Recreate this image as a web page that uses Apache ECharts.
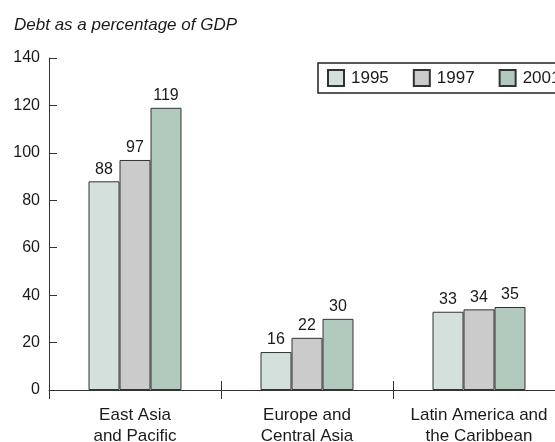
<!DOCTYPE html>
<html><head><meta charset="utf-8">
<script src="https://cdn.jsdelivr.net/npm/echarts@6/dist/echarts.min.js"></script>
<style>html,body{margin:0;padding:0;background:#fff}#c{width:555px;height:442px}</style>
</head><body><div id="c"></div>
<script>
const categories = ['East Asia\nand Pacific', 'Europe and\nCentral Asia', 'Latin America and\nthe Caribbean'];
const seriesNames = ['1995', '1997', '2001'];
const values1995 = [88, 16, 33];
const values1997 = [97, 22, 34];
const values2001 = [119, 30, 35];
const yTicks = { min: 0, max: 140, interval: 20 };
const colors = ['#d4e0dc', '#cbcbcb', '#b2c9bd'];
const font = 'Liberation Sans, Arial, sans-serif';
const ink = '#1a1a1a';

const chart = echarts.init(document.getElementById('c'));
const mk = (name, data, color) => ({
  name, type: 'bar', data, barWidth: 31, barGap: '0%',
  itemStyle: { color, borderColor: '#333', borderWidth: 1 },
  label: { show: true, position: 'top', distance: 4, color: ink, fontSize: 16, fontFamily: font }
});
chart.setOption({
  animation: false,
  title: { text: 'Debt as a percentage of GDP', left: 9, top: 12,
    textStyle: { fontStyle: 'italic', fontWeight: 'normal', fontSize: 17, color: ink, fontFamily: font } },
  legend: { data: seriesNames, left: 318, top: 63, width: 320, orient: 'horizontal',
    borderColor: '#222', borderWidth: 1.5, padding: [6, 8, 6, 9],
    itemWidth: 16, itemHeight: 16, itemGap: 24, icon: 'rect',
    textStyle: { fontSize: 17, color: ink, fontFamily: font, padding: [0, 0, 0, 2] } },
  grid: { left: 49, top: 58, bottom: 52, width: 516, containLabel: false, outerBoundsMode: 'none' },
  xAxis: [{
    type: 'category', data: categories, position: 'bottom',
    axisLine: { lineStyle: { color: '#333', width: 1 } },
    axisTick: { show: true, length: 9, lineStyle: { color: '#333' } },
    axisLabel: { interval: 0, fontSize: 17, color: ink, fontFamily: font, margin: 15, lineHeight: 21 }
  }, {
    type: 'category', data: categories, position: 'bottom',
    axisLine: { show: false },
    axisTick: { show: true, inside: true, length: 9, lineStyle: { color: '#333' } },
    axisLabel: { show: false }
  }],
  yAxis: {
    type: 'value', min: yTicks.min, max: yTicks.max, interval: yTicks.interval,
    axisLine: { show: true, lineStyle: { color: '#333', width: 1 } },
    axisTick: { show: true, inside: true, length: 8, lineStyle: { color: '#333' } },
    splitLine: { show: false },
    axisLabel: { fontSize: 16, color: ink, fontFamily: font, margin: 9 }
  },
  series: [mk(seriesNames[0], values1995, colors[0]), mk(seriesNames[1], values1997, colors[1]), mk(seriesNames[2], values2001, colors[2])]
});
</script></body></html>
